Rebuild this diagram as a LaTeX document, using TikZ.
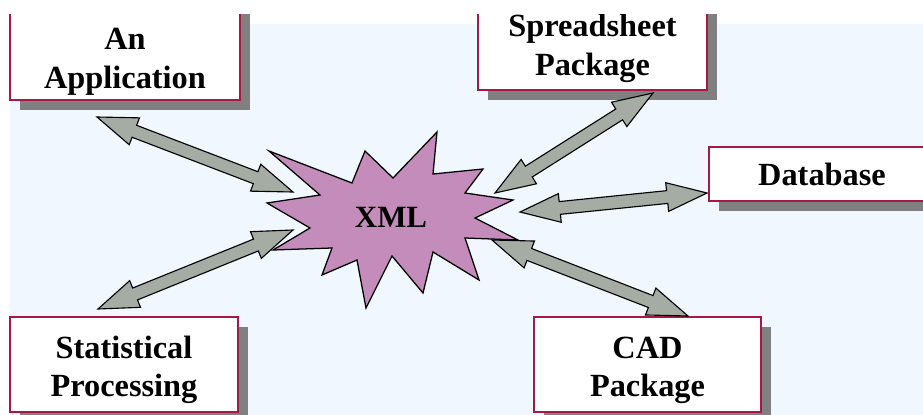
\documentclass[tikz,border=0pt]{standalone}
\usepackage{fontspec}
\setmainfont{Liberation Serif}
\usetikzlibrary{calc,shadows}
\definecolor{boxred}{RGB}{165,25,70}
\definecolor{shadowgray}{RGB}{128,128,128}
\definecolor{arrowgray}{RGB}{164,172,164}
\definecolor{starpink}{RGB}{196,140,186}
\definecolor{bgblue}{RGB}{240,247,254}
\newcommand\XMLboxfont{\fontsize{23}{27.5}\selectfont\bfseries}
\tikzset{
  appbox/.style={draw=boxred, line width=1.1pt, fill=white, inner sep=0pt,
    align=center, anchor=base, font=\XMLboxfont,
    drop shadow={shadow xshift=0.25cm, shadow yshift=-0.25cm,
      fill=shadowgray, opacity=1}},
  linkarrow/.style={draw=black, fill=arrowgray, line width=0.8pt, line join=miter},
  xmlstar/.style={draw=black, fill=starpink, line width=0.9pt, line join=miter}
}
\newcommand\XMLlink[2]{
  \draw[linkarrow] (#1)
    -- ($(#1)!1cm!(#2)!0.36cm!90:(#2)$)
    -- ($(#1)!1cm!(#2)!0.16cm!90:(#2)$)
    -- ($(#2)!1cm!(#1)!0.16cm!-90:(#1)$)
    -- ($(#2)!1cm!(#1)!0.36cm!-90:(#1)$)
    -- (#2)
    -- ($(#2)!1cm!(#1)!0.36cm!90:(#1)$)
    -- ($(#2)!1cm!(#1)!0.16cm!90:(#1)$)
    -- ($(#1)!1cm!(#2)!0.16cm!-90:(#2)$)
    -- ($(#1)!1cm!(#2)!0.36cm!-90:(#2)$)
    -- cycle;
}
\begin{document}
\begin{tikzpicture}[x=0.025cm, y=-0.025cm]
\useasboundingbox (0,0) rectangle (923,415);
\clip (0,0) rectangle (923,415);
\fill[white] (0,0) rectangle (923,415);
\fill[bgblue] (10,24) rectangle (923,415);

% the programs round the hub
\node[appbox, minimum width=5.75cm, text height=2.2cm, text depth=0.3cm]
  (app) at (125,88) {An\\Application};
\node[appbox, minimum width=5.725cm, text height=1.875cm, text depth=0.375cm]
  (sheet) at (592.5,75) {Spreadsheet\\Package};
\node[appbox, minimum width=5.65cm, text height=0.95cm, text depth=0.4cm]
  (db) at (822,185) {Database};
\node[appbox, minimum width=5.7cm, text height=1.99cm, text depth=0.38cm]
  (stat) at (124,396.7) {Statistical\\Processing};
\node[appbox, minimum width=5.675cm, text height=1.99cm, text depth=0.38cm]
  (cad) at (647.5,396.7) {CAD\\Package};

% arrow ends
\coordinate (appEnd) at (97,117);
\coordinate (sheetEnd) at (653,93);
\coordinate (dbEnd) at (707,193);
\coordinate (statEnd) at (98,309);
\coordinate (cadEnd) at (688,316);
\coordinate (xmlApp) at (293,192);
\coordinate (xmlSheet) at (495,193);
\coordinate (xmlDb) at (520,212);
\coordinate (xmlStat) at (293,230);
\coordinate (xmlCad) at (492,240);

\XMLlink{appEnd}{xmlApp}
\XMLlink{sheetEnd}{xmlSheet}
\XMLlink{dbEnd}{xmlDb}
\XMLlink{statEnd}{xmlStat}
\XMLlink{cadEnd}{xmlCad}

% the hub
\draw[xmlstar] (269,151) -- (352,183) -- (365,151) -- (393,178) -- (437,132)
  -- (433,174) -- (483,169) -- (465,193) -- (513,200) -- (475,218)
  -- (518,240) -- (465,238) -- (479,280) -- (433,252) -- (423,293)
  -- (392,256) -- (366,308) -- (357,260) -- (322,275) -- (332,248)
  -- (273,250) -- (310,228) -- (267,203) -- (320,195) -- cycle;
\node[font=\fontsize{22}{26}\selectfont\bfseries, inner sep=0pt] (xml) at (391,217) {XML};

\fill[white] (0,0) rectangle (923,14);
\end{tikzpicture}
\end{document}
